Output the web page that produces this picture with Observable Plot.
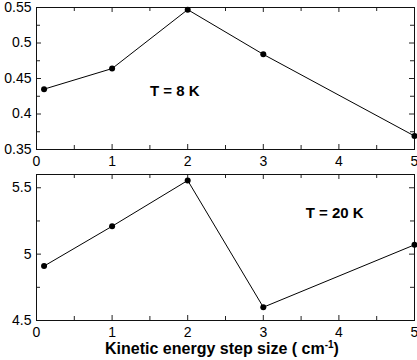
<!DOCTYPE html>
<html><head><meta charset="utf-8">
<script src="https://cdn.jsdelivr.net/npm/d3@7"></script>
<script src="https://cdn.jsdelivr.net/npm/@observablehq/plot@0.6"></script>
<style>
body{margin:0;background:#fff;font-family:Arial,"Liberation Sans",Helvetica,sans-serif}
#chart{width:417px}
#title{padding-left:27px;width:417px;box-sizing:border-box;text-align:center;font-weight:bold;font-size:16px;line-height:20px;height:20px;margin-top:1px;white-space:nowrap}
#title sup{font-size:10px;line-height:0}
</style>
</head><body><div id="chart"></div>
<script>
const stepSizes = [0.1, 1, 2, 3, 5];
const values8K = [0.435, 0.464, 0.547, 0.484, 0.369];
const values20K = [4.91, 5.21, 5.555, 4.60, 5.07];
const xTicks = [0, 1, 2, 3, 4, 5];
const xMinorTicks = [0.5, 1.5, 2.5, 3.5, 4.5];
const yTicks8K = [0.35, 0.4, 0.45, 0.5, 0.55];
const yMinor8K = [0.375, 0.425, 0.475, 0.525];
const yTicks20K = [4.5, 5, 5.5];
const yMinor20K = [4.75, 5.25];
const yDomain8K = [0.35, 0.55];
const yDomain20K = [4.5, 5.6];
const label8K = {text: "T = 8 K", x: 1.5, y: 0.4325};
const label20K = {text: "T = 20 K", x: 3.56, y: 5.31};
const xTitle = "Kinetic energy step size ( cm";
const xTitleSup = "-1";

const W = 417, ML = 36, MR = 3;
const font = 'Arial, "Liberation Sans", Helvetica, sans-serif';

function panel({values, yDomain, yTicks, yMinor, label, height, marginTop, marginBottom}) {
  const data = stepSizes.map((x, i) => ({x, y: values[i]}));
  const ph = height - marginTop - marginBottom;
  const pw = W - ML - MR;
  const tc = "#222";
  return Plot.plot({
    width: W, height, marginLeft: ML, marginRight: MR, marginTop, marginBottom,
    style: {fontFamily: font, fontSize: "14px", color: "#000", background: "#fff", overflow: "visible"},
    x: {domain: [0, 5], label: null},
    y: {domain: yDomain, label: null},
    marks: [
      Plot.axisX({ticks: xTicks, tickSize: 0, tickPadding: 7, fontSize: 14, label: null, tickFormat: d => String(d)}),
      Plot.axisY({ticks: yTicks, tickSize: 0, tickPadding: 5, fontSize: 14, label: null, tickFormat: d => String(d)}),
      Plot.ruleX(xTicks, {x: d => d, insetTop: ph - 5, stroke: tc}),
      Plot.ruleX(xTicks, {x: d => d, insetBottom: ph - 5, stroke: tc}),
      Plot.ruleX(xMinorTicks, {x: d => d, insetTop: ph - 4, stroke: tc}),
      Plot.ruleX(xMinorTicks, {x: d => d, insetBottom: ph - 4, stroke: tc}),
      Plot.ruleY(yTicks, {y: d => d, insetRight: pw - 5, stroke: tc}),
      Plot.ruleY(yTicks, {y: d => d, insetLeft: pw - 5, stroke: tc}),
      Plot.ruleY(yMinor, {y: d => d, insetRight: pw - 4, stroke: tc}),
      Plot.ruleY(yMinor, {y: d => d, insetLeft: pw - 4, stroke: tc}),
      Plot.frame({stroke: "#111"}),
      Plot.line(data, {x: "x", y: "y", stroke: "#000", strokeWidth: 1}),
      Plot.dot(data, {x: "x", y: "y", r: 3, fill: "#000", stroke: "none"}),
      Plot.text([label], {x: "x", y: "y", text: "text", textAnchor: "start", fontWeight: "bold", fontSize: 15, fill: "#000"})
    ]
  });
}

const chart = document.getElementById("chart");
chart.append(panel({values: values8K, yDomain: yDomain8K, yTicks: yTicks8K, yMinor: yMinor8K, label: label8K, height: 170, marginTop: 7, marginBottom: 21}));
chart.append(panel({values: values20K, yDomain: yDomain20K, yTicks: yTicks20K, yMinor: yMinor20K, label: label20K, height: 168, marginTop: 4, marginBottom: 18}));
const t = document.createElement("div");
t.id = "title";
t.append(xTitle);
const s = document.createElement("sup");
s.textContent = xTitleSup;
t.append(s, ")");
chart.append(t);
</script>
</body></html>
